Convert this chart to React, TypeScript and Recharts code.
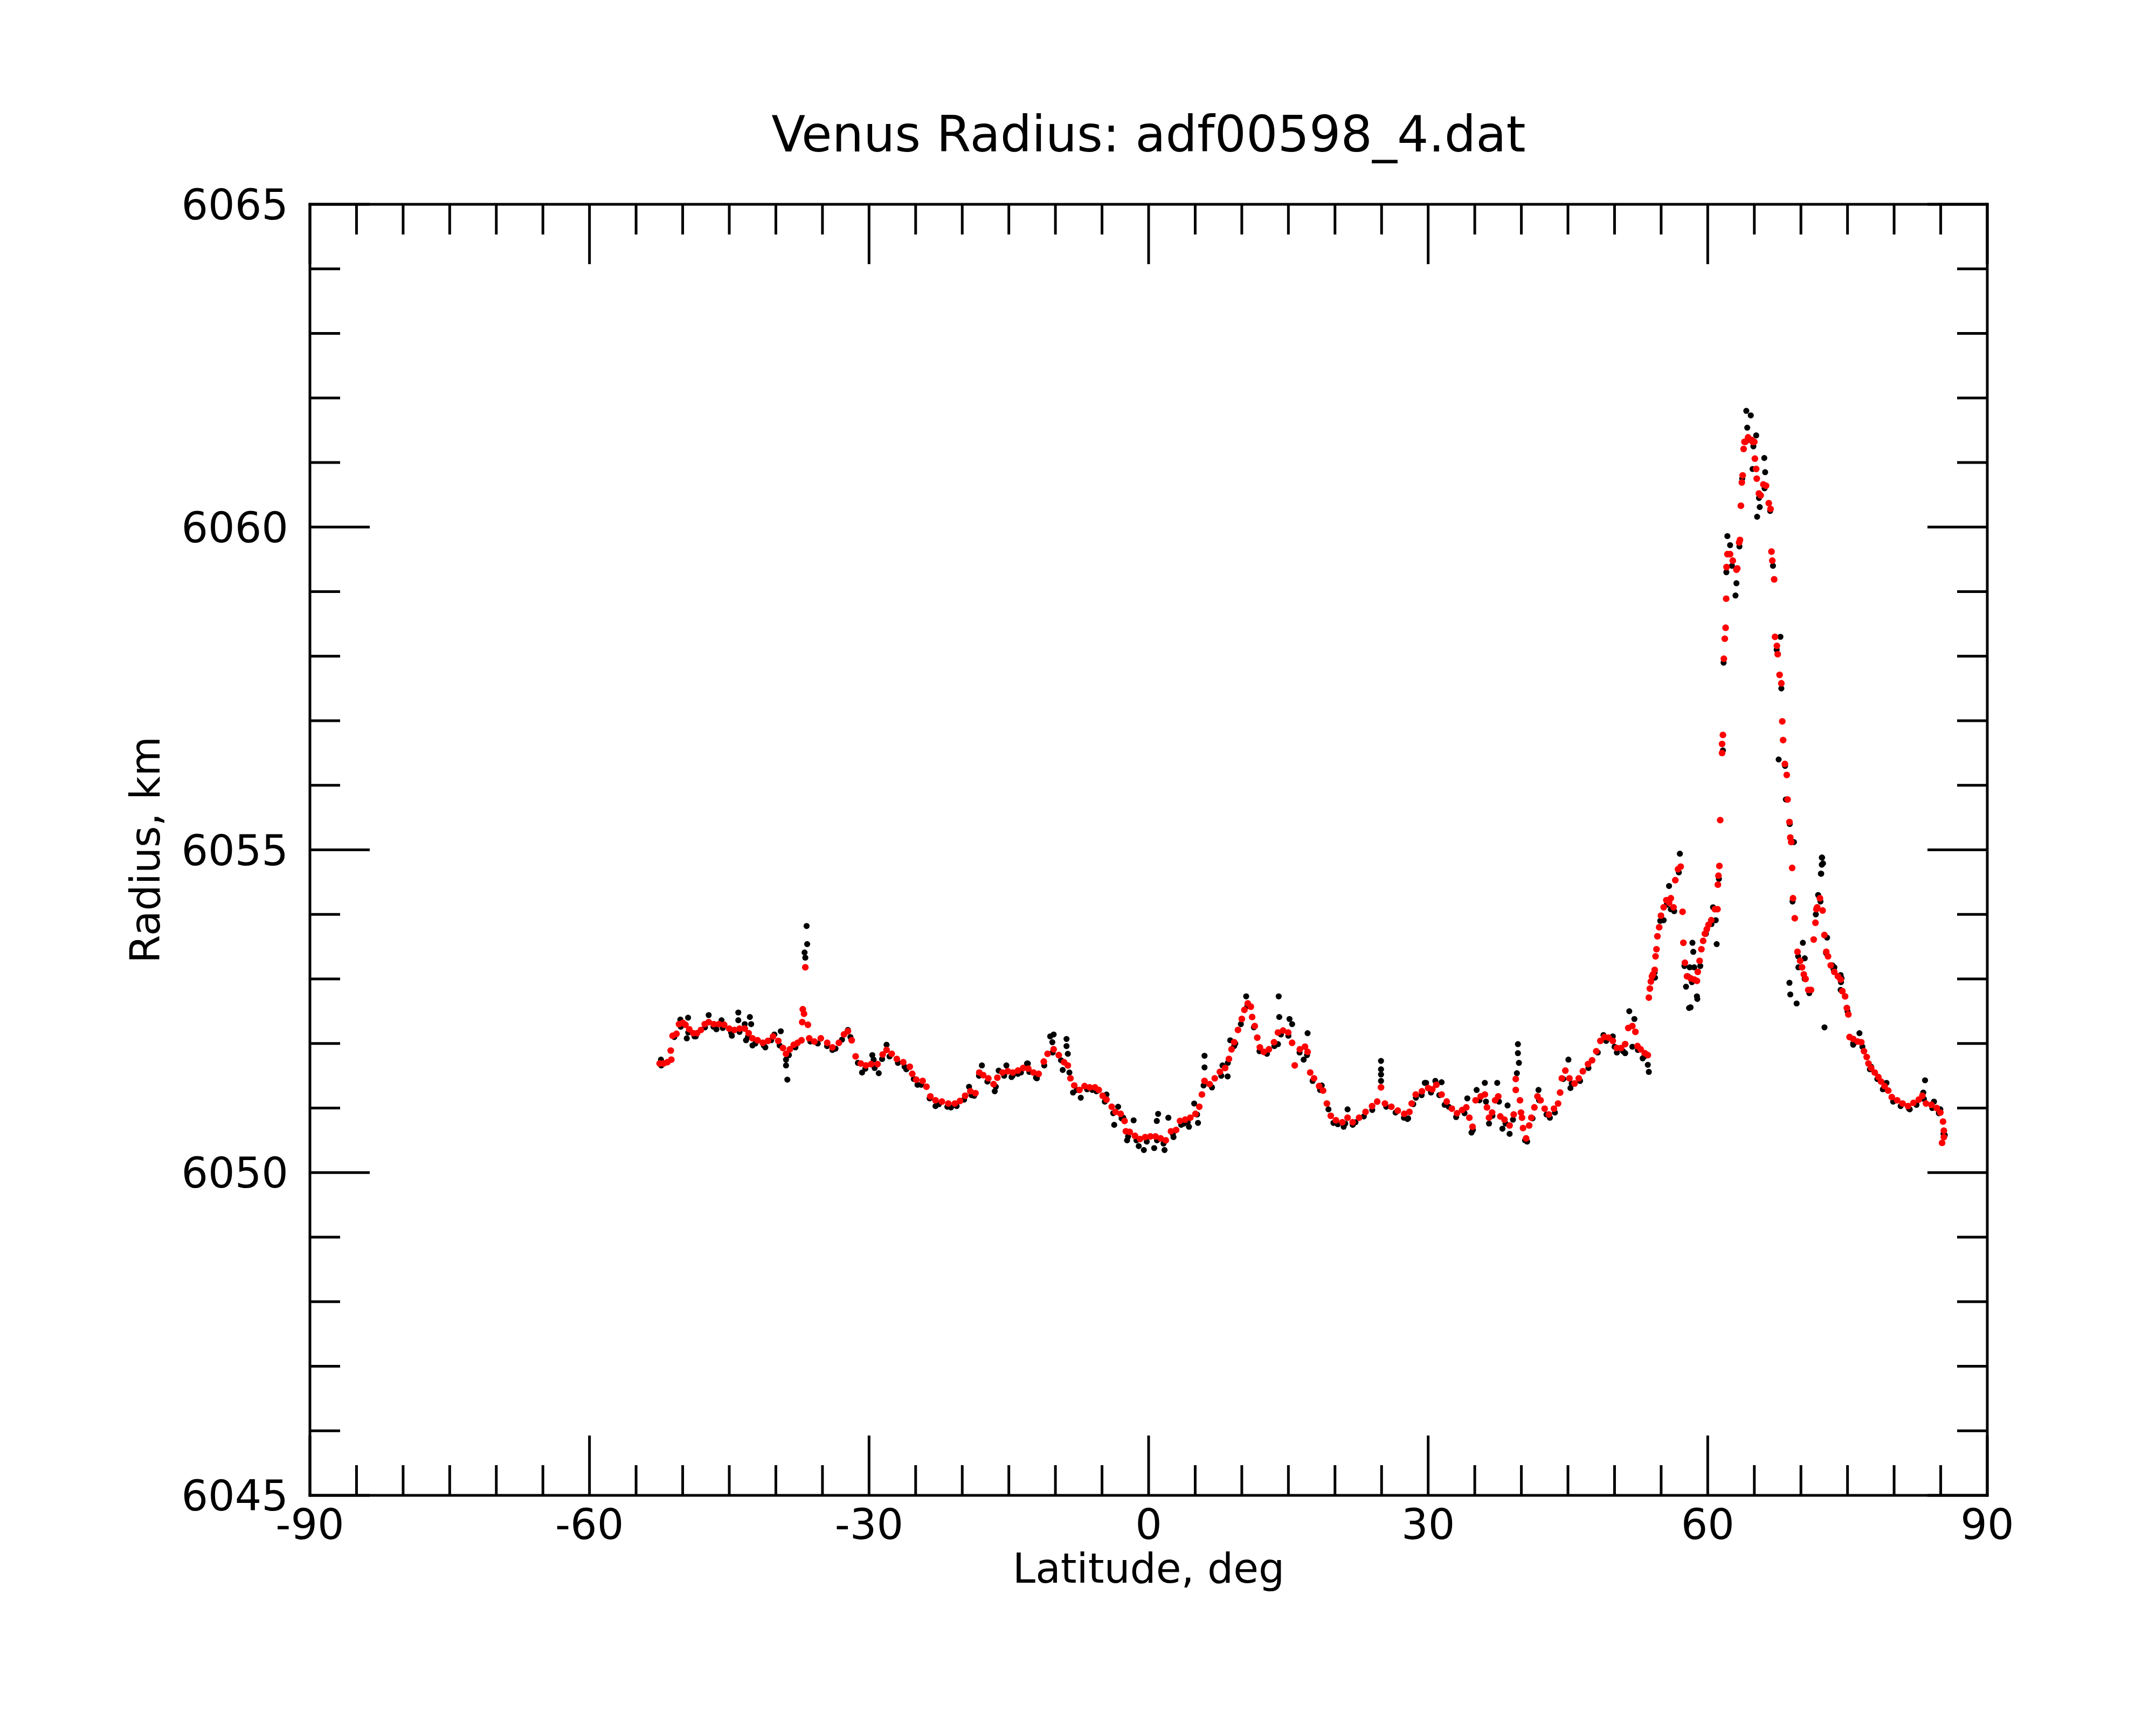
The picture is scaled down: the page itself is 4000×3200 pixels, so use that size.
import React from "react";
import { ScatterChart, Scatter, XAxis, YAxis } from "recharts";

// ---- Data: [latitude (deg), radius (km)] ----
const redSouth: [number, number][] = [
  [-52.47,6051.69],[-52.05,6051.69],[-51.64,6051.71],[-51.22,6051.75],[-51.28,6051.89],[-51.08,6052.12],[-50.67,6052.15],[-50.39,6052.30],[-49.98,6052.32],[-49.70,6052.29],[-49.29,6052.22],[-48.87,6052.16],[-48.46,6052.16],[-48.04,6052.21],[-47.63,6052.30],[-47.21,6052.33],[-46.66,6052.30],[-46.10,6052.30],[-45.55,6052.29],[-45.00,6052.23],[-44.45,6052.21],[-43.89,6052.23],[-43.34,6052.23],[-42.92,6052.16],[-42.51,6052.08],[-41.96,6052.05],[-41.40,6052.01],[-40.85,6052.04],[-40.30,6052.11],[-39.74,6052.04],[-39.24,6051.93],[-38.91,6051.84],[-38.50,6051.91],[-38.08,6051.98],[-37.67,6052.01],[-37.25,6052.05],[-37.11,6052.53],[-36.98,6052.46],[-37.17,6052.33],[-36.56,6052.29],[-36.84,6053.18],[-36.42,6052.08],[-35.87,6052.03],[-35.18,6052.08],[-34.49,6052.01],[-33.93,6051.94],[-33.24,6052.01],[-32.69,6052.14],[-32.27,6052.19],[-31.86,6052.05],[-31.44,6051.80],[-30.89,6051.69],[-30.34,6051.66],[-29.78,6051.68],[-29.09,6051.68],[-28.54,6051.83],[-28.12,6051.90],[-27.57,6051.84],[-27.02,6051.76],[-26.33,6051.71],[-25.63,6051.64],[-25.36,6051.53],[-24.94,6051.44],[-24.25,6051.42],[-23.84,6051.33],[-23.42,6051.18],[-22.87,6051.12],[-22.18,6051.10],[-21.49,6051.07],[-20.79,6051.07],[-20.24,6051.11],[-19.69,6051.19],[-19.13,6051.26],[-18.58,6051.23],[-18.17,6051.55],[-17.75,6051.51],[-17.20,6051.46],[-16.64,6051.37],[-16.23,6051.47],[-15.68,6051.55],[-15.12,6051.57],[-14.57,6051.55],[-14.02,6051.58],[-13.46,6051.62],[-12.91,6051.61],[-12.36,6051.55],[-11.80,6051.53],[-11.25,6051.72],[-10.84,6051.84],
];
const redEquator: [number, number][] = [
  [-10.19,6051.91],[-9.64,6051.82],[-9.08,6051.71],[-8.67,6051.66],[-8.39,6051.46],[-7.98,6051.35],[-7.42,6051.28],[-6.87,6051.34],[-6.32,6051.32],[-5.76,6051.32],[-5.35,6051.28],[-4.93,6051.19],[-4.52,6051.13],[-3.96,6051.02],[-3.55,6050.94],[-3.00,6050.91],[-2.58,6050.80],[-2.44,6050.64],[-2.03,6050.63],[-1.47,6050.57],[-0.92,6050.52],[-0.37,6050.55],[0.19,6050.56],[0.74,6050.56],[1.29,6050.53],[1.84,6050.50],[2.40,6050.64],[2.95,6050.66],[3.37,6050.80],[3.92,6050.82],[4.47,6050.85],[5.03,6050.91],[5.44,6051.02],[5.72,6051.21],[6.00,6051.42],[6.55,6051.37],[7.10,6051.46],[7.65,6051.56],[8.21,6051.62],[8.62,6051.76],[8.90,6051.91],[9.18,6052.02],[9.59,6052.21],[10.00,6052.38],[10.28,6052.52],[10.64,6052.62],[10.97,6052.57],[11.11,6052.41],[11.39,6052.27],[11.66,6052.09],[11.94,6051.94],[12.36,6051.87],[12.91,6051.91],[13.46,6052.02],[13.88,6052.17],[14.43,6052.20],[14.98,6052.17],[15.40,6052.01],[15.68,6051.66],[16.23,6051.91],[16.78,6051.95],[17.06,6051.87],[17.34,6051.55],[17.75,6051.46],[18.30,6051.34],[18.72,6051.27],[19.13,6051.07],[19.55,6050.88],[20.10,6050.81],[20.79,6050.78],[21.35,6050.85],[21.90,6050.78],[22.59,6050.85],[23.28,6050.94],[23.98,6051.03],[24.53,6051.10],[24.94,6051.32],[25.36,6051.07],[26.05,6051.02],[26.74,6050.96],[27.43,6050.91],[27.99,6050.94],
];
const redNorth: [number, number][] = [
  [28.23,6051.07],[28.67,6051.21],[29.33,6051.26],[30.00,6051.31],[30.44,6051.29],[30.88,6051.36],[31.44,6051.21],[31.99,6051.10],[32.54,6050.99],[33.10,6050.92],[33.65,6050.97],[34.09,6051.01],[34.42,6050.85],[34.76,6050.71],[35.09,6051.12],[35.64,6051.18],[36.08,6051.21],[36.31,6051.01],[36.53,6050.85],[36.86,6050.93],[37.19,6051.12],[37.52,6051.18],[37.74,6050.87],[38.19,6050.82],[38.74,6050.73],[39.18,6050.90],[39.40,6051.45],[39.40,6051.28],[39.85,6051.12],[39.96,6050.93],[40.07,6050.85],[40.18,6050.69],[40.51,6050.53],[40.84,6050.73],[41.07,6050.85],[41.40,6051.01],[41.73,6051.18],[42.06,6051.12],[42.50,6050.99],[42.95,6050.90],[43.50,6050.99],[43.94,6051.07],[44.16,6051.24],[44.34,6051.46],[44.72,6051.58],[45.16,6051.46],[45.71,6051.38],[46.16,6051.46],[46.60,6051.57],[47.15,6051.68],[47.59,6051.74],[48.04,6051.88],[48.48,6052.04],[48.92,6052.10],[49.36,6052.09],[49.81,6052.04],[50.25,6051.93],[50.69,6051.93],[51.14,6051.99],[51.47,6052.24],[51.91,6052.27],[52.24,6052.18],[52.46,6051.96],[52.80,6051.91],[53.24,6051.85],[53.57,6051.82],
];
const redPeak: [number, number][] = [
  [53.68,6052.71],[53.79,6052.85],[53.90,6052.96],[54.02,6053.04],[54.12,6053.07],[54.31,6053.14],[54.40,6053.35],[54.50,6053.46],[54.60,6053.66],[54.79,6053.80],[54.98,6053.98],[55.27,6054.11],[55.56,6054.22],[55.85,6054.18],[56.04,6054.25],[56.33,6054.11],[56.52,6054.53],[56.81,6054.70],[57.10,6054.74],[57.30,6054.04],[57.39,6053.56],[57.55,6053.25],[57.78,6053.04],[58.16,6053.01],[58.55,6052.99],[58.84,6052.97],[58.93,6053.11],[59.13,6053.28],[59.32,6053.46],[59.51,6053.59],[59.70,6053.70],[59.90,6053.77],[60.09,6053.84],[60.38,6053.91],[60.77,6054.08],[61.05,6054.08],[61.09,6054.46],[61.15,6054.60],[61.25,6054.75],[61.34,6055.46],[61.54,6056.50],[61.54,6056.64],[61.63,6056.78],[61.73,6057.96],[61.83,6058.27],[61.92,6058.44],[61.98,6058.89],[62.02,6059.38],[62.11,6059.58],[62.40,6059.58],[62.69,6059.48],[63.08,6059.34],[63.17,6059.36],[63.37,6059.76],[63.46,6059.80],[63.56,6060.33],[63.66,6060.69],[63.75,6060.80],[63.85,6061.21],[63.94,6061.32],[64.04,6061.32],[64.33,6061.39],[64.72,6061.35],[64.81,6061.32],[65.00,6061.32],[65.06,6061.06],[65.20,6060.90],[65.26,6060.75],[65.49,6060.52],[65.68,6060.49],[65.97,6060.66],[66.26,6060.64],[66.55,6060.37],[66.74,6060.28],[66.84,6059.62],[66.93,6059.48],[67.13,6059.19],[67.22,6058.30],[67.42,6058.16],[67.51,6058.03],[67.71,6057.71],[67.90,6057.58],[68.00,6056.99],[68.09,6056.70],[68.28,6056.33],[68.48,6056.16],[68.57,6055.78],[68.77,6055.43],[68.86,6055.19],[68.96,6055.12],[69.06,6054.72],[69.15,6054.25],[69.34,6053.94],[69.63,6053.42],[69.92,6053.28],[70.12,6053.18],[70.31,6053.07],[70.50,6053.00],[70.79,6052.83],[71.08,6052.83],
];
const redPolar: [number, number][] = [
  [71.37,6053.61],[71.56,6053.87],[71.66,6054.08],[71.75,6054.11],[72.04,6054.25],[72.33,6054.06],[72.52,6053.68],[72.72,6053.42],[72.91,6053.35],[73.20,6053.21],[73.58,6053.11],[73.97,6053.04],[74.26,6052.99],[74.45,6052.81],[74.74,6052.73],[74.93,6052.55],[75.09,6052.45],[75.22,6052.10],[75.61,6052.07],[76.09,6052.03],[76.48,6052.02],[76.77,6051.88],[77.06,6051.79],[77.25,6051.69],[77.54,6051.62],[77.92,6051.55],[78.31,6051.48],[78.60,6051.41],[78.98,6051.34],[79.37,6051.27],[79.75,6051.17],[80.33,6051.12],[80.91,6051.07],[81.49,6051.03],[82.07,6051.08],[82.65,6051.13],[83.03,6051.19],[83.42,6051.07],[84.00,6051.05],[84.57,6051.00],[84.96,6050.93],[85.25,6050.79],[85.34,6050.65],[85.34,6050.55],[85.15,6050.46],
];

const blackTrace: [number, number][] = [
  [-52.3,6051.66],[-50.9,6052.10],[-50.2,6052.26],[-49.4,6052.17],[-48.6,6052.11],[-47.6,6052.25],[-46.7,6052.26],[-45.7,6052.24],[-44.8,6052.17],[-43.9,6052.18],[-43.0,6052.10],[-42.2,6052.00],[-41.3,6051.97],[-40.5,6052.05],[-39.6,6051.97],[-38.6,6051.82],[-37.9,6051.94],[-36.3,6052.03],[-35.5,6052.00],[-34.5,6051.96],[-33.6,6051.92],[-32.9,6052.06],[-32.0,6052.10],[-31.2,6051.70],[-30.4,6051.61],[-29.4,6051.62],[-28.6,6051.76],[-27.8,6051.80],[-26.9,6051.70],[-26.0,6051.60],[-25.2,6051.45],[-24.4,6051.36],[-23.5,6051.15],[-22.5,6051.06],[-21.6,6051.02],[-20.6,6051.03],[-19.8,6051.13],[-19.0,6051.20],[-18.2,6051.50],[-17.3,6051.41],[-16.4,6051.33],[-15.5,6051.50],[-14.6,6051.50],[-13.7,6051.55],[-12.8,6051.56],[-12.0,6051.48],[-11.2,6051.66],
  [-10.3,6051.86],[-9.4,6051.74],[-8.5,6051.55],[-7.7,6051.28],[-6.6,6051.29],[-5.6,6051.26],[-4.7,6051.10],[-3.8,6050.92],[-2.9,6050.84],[-2.2,6050.56],[-1.3,6050.50],[-0.2,6050.48],[0.9,6050.50],[1.6,6050.45],[2.6,6050.60],[3.5,6050.74],[4.2,6050.78],[5.2,6050.90],[5.9,6051.35],[6.8,6051.32],[7.8,6051.50],[8.5,6051.70],[9.3,6052.00],[9.9,6052.30],[10.6,6052.58],[11.3,6052.25],[11.9,6051.88],[12.7,6051.84],[13.5,6051.96],[14.2,6052.14],[15.0,6052.12],[16.2,6051.86],[17.0,6051.82],[17.6,6051.42],[18.4,6051.28],[19.3,6050.98],[20.3,6050.75],[21.1,6050.76],[22.2,6050.78],[23.1,6050.87],[24.0,6050.97],[25.5,6051.02],[26.5,6050.93],[27.4,6050.85],
  [28.4,6051.06],[29.3,6051.20],[30.3,6051.24],[31.2,6051.20],[32.2,6051.02],[33.0,6050.86],[33.9,6050.92],[34.8,6050.66],[35.5,6051.12],[36.2,6051.10],[36.9,6050.88],[37.6,6051.10],[38.3,6050.76],[39.1,6050.82],[40.4,6050.50],[41.2,6050.84],[41.9,6051.12],[42.7,6050.90],[43.6,6050.93],[44.5,6051.45],[45.4,6051.38],[46.3,6051.42],[47.2,6051.62],[48.2,6051.86],[49.1,6052.04],[50.0,6051.95],[50.9,6051.88],[52.5,6051.90],[53.2,6051.80],
  [54.3,6053.10],[54.9,6053.90],[55.6,6054.15],[56.4,6054.05],[56.9,6054.65],[57.5,6053.20],[58.3,6052.95],[59.2,6053.20],[59.8,6053.70],[60.4,6053.85],[61.2,6054.55],[61.7,6057.90],[62.0,6059.30],[62.6,6059.40],[63.4,6059.70],[63.7,6060.75],[64.3,6061.35],[64.9,6061.25],[65.5,6060.45],[66.1,6060.60],[66.7,6060.25],[67.0,6059.40],[67.4,6058.10],[67.9,6057.50],[68.3,6056.30],[68.8,6055.40],[69.1,6054.20],[69.7,6053.35],[70.4,6053.00],[70.9,6052.78],[71.6,6054.00],[72.1,6054.20],[72.7,6053.40],[73.5,6053.15],[74.3,6052.95],[75.0,6052.50],[75.8,6052.02],[76.6,6051.95],[77.4,6051.60],[78.2,6051.45],[79.0,6051.30],[79.9,6051.10],[80.7,6051.03],[81.6,6050.99],[82.4,6051.05],[83.2,6051.14],[84.1,6051.00],[84.8,6050.92],[85.3,6050.60],
];
const blackOutliers: [number, number][] = [
  [-36.70,6053.82],[-36.64,6053.54],[-36.92,6053.41],[-36.84,6053.33],[-38.91,6051.75],[-38.91,6051.66],[-38.77,6051.44],
  [-52.33,6051.75],[-50.25,6052.37],[-49.42,6052.40],[-49.56,6052.08],[-48.73,6052.11],[-47.21,6052.44],[-46.38,6052.22],[-45.83,6052.36],[-44.72,6052.12],[-44.03,6052.48],[-44.03,6052.36],[-43.34,6052.30],[-42.79,6052.41],[-42.65,6052.30],[-43.20,6052.05],[-42.51,6051.97],[-41.13,6051.94],[-40.16,6052.14],[-39.47,6052.19],[-33.93,6051.90],[-32.27,6052.21],[-30.75,6051.55],[-29.65,6051.82],[-29.51,6051.75],[-28.96,6051.54],[-28.12,6051.98],[-26.19,6051.64],[-24.80,6051.36],[-22.87,6051.03],[-21.21,6051.01],[-19.27,6051.33],[-18.72,6051.19],[-17.89,6051.66],[-16.51,6051.26],[-16.09,6051.58],[-15.26,6051.66],[-14.71,6051.48],[-14.02,6051.53],[-13.05,6051.69],[-12.08,6051.47],[-10.56,6052.11],
  [-12.96,6051.69],[-11.99,6051.46],[-10.19,6052.14],[-10.33,6052.02],[-8.81,6052.07],[-8.81,6051.96],[-8.67,6051.84],[-9.22,6051.59],[-8.11,6051.24],[-7.28,6051.16],[-6.04,6051.28],[-4.52,6051.21],[-3.69,6050.74],[-3.27,6051.02],[-2.72,6050.85],[-2.31,6050.50],[-1.61,6050.81],[-1.06,6050.41],[-0.51,6050.35],[0.60,6050.38],[1.02,6050.91],[0.88,6050.80],[1.71,6050.35],[2.12,6050.85],[2.67,6050.55],[3.78,6050.76],[4.33,6050.71],[4.89,6051.07],[5.30,6050.77],[6.00,6051.81],[6.00,6051.63],[7.93,6051.66],[8.48,6051.49],[8.76,6052.05],[9.18,6051.96],[10.47,6052.73],[13.96,6052.73],[14.02,6052.41],[15.12,6052.38],[15.40,6052.30],[13.88,6051.99],[17.06,6052.16],[16.64,6051.75],[18.58,6051.35],[19.83,6050.77],[21.35,6050.98],[20.93,6050.71],[21.90,6050.74],[24.94,6051.73],[24.94,6051.60],[24.94,6051.52],[24.94,6051.42],[27.85,6050.84],[28.68,6051.16],[29.64,6051.39],
  [27.78,6050.83],[29.78,6051.39],[30.77,6051.42],[31.44,6051.40],[31.77,6051.05],[34.20,6051.15],[34.65,6050.62],[35.20,6051.28],[36.08,6051.39],[36.53,6050.76],[37.41,6051.39],[38.52,6051.04],[37.97,6050.68],[38.74,6050.60],[39.63,6051.99],[39.63,6051.85],[39.74,6051.70],[39.52,6051.54],[40.62,6050.48],[41.84,6051.28],[43.06,6050.85],[45.05,6051.75],[45.27,6051.31],[48.81,6052.13],[49.81,6052.11],[50.25,6051.86],[51.14,6051.85],[51.58,6052.50],[52.13,6052.38],[51.91,6051.95],[53.02,6051.77],[53.57,6051.67],[53.68,6051.56],[54.34,6053.02],[58.00,6052.55],[58.88,6052.69],[57.67,6052.88],
  [57.01,6054.94],[55.85,6054.44],[55.27,6053.91],[56.04,6054.08],[58.36,6053.56],[58.45,6053.42],[58.16,6052.56],[58.84,6052.73],[57.87,6053.04],[60.86,6053.91],[60.96,6053.54],[60.57,6054.11],[61.63,6056.54],[62.11,6059.86],[62.40,6059.72],[63.08,6059.13],[62.98,6058.94],[64.14,6061.80],[64.62,6061.73],[64.24,6061.54],[65.20,6061.42],[64.81,6060.90],[66.07,6061.07],[66.16,6060.85],[65.58,6060.31],[65.30,6060.16],[67.80,6058.30],[67.51,6058.03],[67.61,6056.40],[68.38,6055.78],[69.25,6055.12],[70.21,6053.56],[70.41,6053.32],[68.77,6052.94],[68.86,6052.76],[69.54,6052.62],[72.24,6054.88],[72.24,6054.77],[72.14,6054.63],[72.53,6052.25],[73.59,6053.18],[74.36,6053.01],[75.61,6052.00],[69.73,6053.18],[58.07,6053.18],[58.55,6053.18],
  [72.27,6054.88],[72.37,6054.79],[72.18,6054.63],[71.85,6054.30],[72.81,6053.64],[73.39,6053.21],[74.26,6053.06],[74.26,6052.83],[76.28,6052.16],[75.61,6051.98],[77.54,6051.64],[79.18,6051.39],[78.79,6051.29],[79.95,6051.12],[81.68,6050.98],[83.32,6051.43],[83.13,6051.24],[84.28,6051.10],[84.96,6050.98],[85.44,6050.58],
];

const xTicks: number[] = [-90,-85,-80,-75,-70,-65,-60,-55,-50,-45,-40,-35,-30,-25,-20,-15,-10,-5,0,5,10,15,20,25,30,35,40,45,50,55,60,65,70,75,80,85,90];
const yTicks: number[] = [6045,6046,6047,6048,6049,6050,6051,6052,6053,6054,6055,6056,6057,6058,6059,6060,6061,6062,6063,6064,6065];
const titleText = "Venus Radius: adf00598_4.dat";
const xLabelText = "Latitude, deg";
const yLabelText = "Radius, km";

const toObj = (arr: [number, number][]) => arr.map(([lat, r]) => ({ lat, r }));
const redData = toObj([...redSouth, ...redEquator, ...redNorth, ...redPeak, ...redPolar]);
const blackData = toObj([...blackTrace, ...blackOutliers]);

// ---- Layout ----
const W = 4000;
const H = 3200;
const PLOT_L = 575;
const PLOT_T = 379;
const PLOT_R = 3687;
const PLOT_B = 2774;
const FONT = "DejaVu Sans";
const MAJOR = 111;
const MINOR = 56;
const LW = 5;

const axisStyle = { stroke: "#000", strokeWidth: LW, strokeLinecap: "square" as const };

const BottomTick = (p: any) => {
  const v = p.payload.value;
  const major = v % 30 === 0;
  return (
    <g>
      <line x1={p.x} x2={p.x} y1={p.y} y2={p.y - (major ? MAJOR : MINOR)} stroke="#000" strokeWidth={LW} />
      {major && (
        <text x={p.x} y={p.y + 81} textAnchor="middle" fontSize={78} fontFamily={FONT} fill="#000">
          {String(v)}
        </text>
      )}
    </g>
  );
};
const TopTick = (p: any) => {
  const v = p.payload.value;
  const major = v % 30 === 0;
  return <line x1={p.x} x2={p.x} y1={p.y} y2={p.y + (major ? MAJOR : MINOR)} stroke="#000" strokeWidth={LW} />;
};
const LeftTick = (p: any) => {
  const v = p.payload.value;
  const major = v % 5 === 0;
  return (
    <g>
      <line x1={p.x} x2={p.x + (major ? MAJOR : MINOR)} y1={p.y} y2={p.y} stroke="#000" strokeWidth={LW} />
      {major && (
        <text x={p.x - 40} y={p.y + 28} textAnchor="end" fontSize={78} fontFamily={FONT} fill="#000">
          {String(v)}
        </text>
      )}
    </g>
  );
};
const RightTick = (p: any) => {
  const v = p.payload.value;
  const major = v % 5 === 0;
  return <line x1={p.x} x2={p.x - (major ? MAJOR : MINOR)} y1={p.y} y2={p.y} stroke="#000" strokeWidth={LW} />;
};

const Dot = (color: string, r: number) => (p: any) =>
  p.cx == null || p.cy == null ? <g /> : <circle cx={p.cx} cy={p.cy} r={r} fill={color} />;

export default function App() {
  return (
    <div style={{ position: "absolute", left: 0, top: 0, width: W, height: H, background: "#fff" }}>
      <ScatterChart
        width={W}
        height={H}
        margin={{ top: PLOT_T - 1, left: PLOT_L - 1, right: W - PLOT_R - 1, bottom: H - PLOT_B - 1 }}
      >
        <XAxis xAxisId="b" orientation="bottom" type="number" dataKey="lat" domain={[-90, 90]} ticks={xTicks} interval={0}
          height={1} tickSize={0} tickMargin={0} tickLine={false} axisLine={axisStyle} tick={BottomTick} allowDataOverflow />
        <XAxis xAxisId="t" orientation="top" type="number" dataKey="lat" domain={[-90, 90]} ticks={xTicks} interval={0}
          height={1} tickSize={0} tickMargin={0} tickLine={false} axisLine={axisStyle} tick={TopTick} allowDataOverflow />
        <YAxis yAxisId="l" orientation="left" type="number" dataKey="r" domain={[6045, 6065]} ticks={yTicks} interval={0}
          width={1} tickSize={0} tickMargin={0} tickLine={false} axisLine={axisStyle} tick={LeftTick} allowDataOverflow />
        <YAxis yAxisId="rt" orientation="right" type="number" dataKey="r" domain={[6045, 6065]} ticks={yTicks} interval={0}
          width={1} tickSize={0} tickMargin={0} tickLine={false} axisLine={axisStyle} tick={RightTick} allowDataOverflow />
        <Scatter name="raw" data={blackData} xAxisId="b" yAxisId="l" fill="#000" shape={Dot("#000", 5.6)} isAnimationActive={false} />
        <Scatter name="filtered" data={redData} xAxisId="t" yAxisId="rt" fill="#ff0000" shape={Dot("#ff0000", 6.2)} isAnimationActive={false} />
      </ScatterChart>
      <svg width={W} height={H} style={{ position: "absolute", left: 0, top: 0, pointerEvents: "none" }}>
        <text x={(PLOT_L + PLOT_R) / 2} y={281} textAnchor="middle" fontSize={92} fontFamily={FONT} fill="#000">
          {titleText}
        </text>
        <text x={(PLOT_L + PLOT_R) / 2} y={2936} textAnchor="middle" fontSize={76} fontFamily={FONT} fill="#000">
          {xLabelText}
        </text>
        <text x={296} y={(PLOT_T + PLOT_B) / 2} transform={`rotate(-90, 296, ${(PLOT_T + PLOT_B) / 2})`} textAnchor="middle"
          fontSize={76} fontFamily={FONT} fill="#000">
          {yLabelText}
        </text>
      </svg>
    </div>
  );
}
